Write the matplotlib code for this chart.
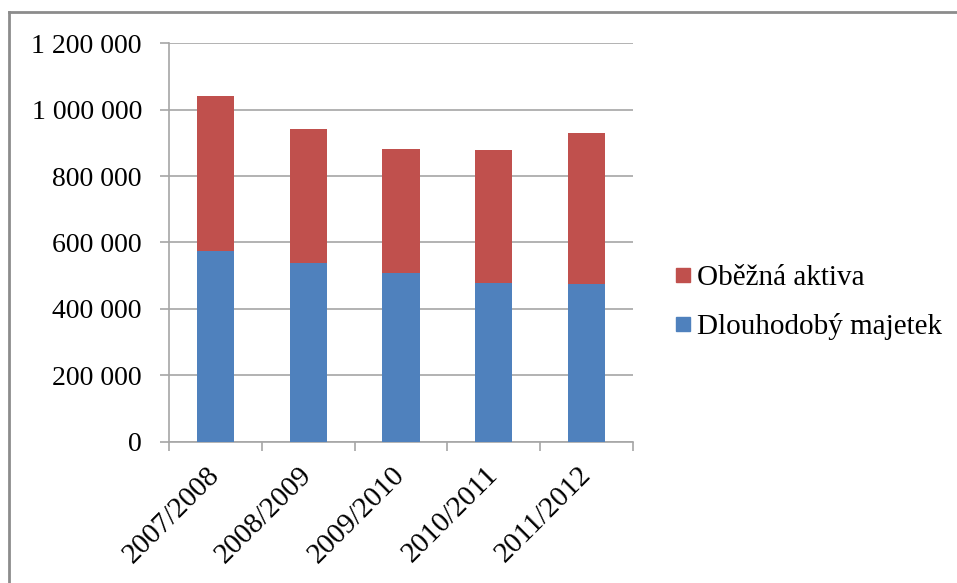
import matplotlib.pyplot as plt
from matplotlib.lines import Line2D
from matplotlib.ticker import FuncFormatter, MultipleLocator


# ==========================================================
# DATA
# ==========================================================

YEARS = ["2007/2008", "2008/2009", "2009/2010", "2010/2011", "2011/2012"]
DLOUHODOBY = [573000, 538000, 508000, 477000, 474000]
OBEZNA = [469000, 403000, 375000, 401000, 456000]

BLUE = "#4F81BD"
RED = "#C0504D"
GRID = "#a6a6a6"


def thousands(value, pos):
    return f"{int(value):,}".replace(",", " ")


# ==========================================================
# PLOT
# ==========================================================

plt.rcParams["font.family"] = ["Liberation Serif", "DejaVu Serif"]

fig = plt.figure(figsize=(9.57, 5.83), dpi=100)
ax = fig.add_axes([0.1766, 0.2424, 0.6614 - 0.1766, 0.9257 - 0.2424])

x = range(len(YEARS))
ax.bar(x, DLOUHODOBY, width=0.4, color=BLUE, zorder=3)
ax.bar(x, OBEZNA, width=0.4, bottom=DLOUHODOBY, color=RED, zorder=3)

ax.set_xlim(-0.5, len(YEARS) - 0.5)
ax.set_ylim(0, 1200000)
ax.yaxis.set_major_locator(MultipleLocator(200000))
ax.yaxis.set_major_formatter(FuncFormatter(thousands))
ax.grid(axis="y", color=GRID, linewidth=1.2, zorder=0)

# category boundaries carry the tick marks
ax.set_xticks([i - 0.5 for i in range(len(YEARS) + 1)])
ax.set_xticklabels([])
ax.set_xticks(list(x), minor=True)
ax.set_xticklabels(YEARS, minor=True, rotation=45, ha="right",
                   va="center", rotation_mode="anchor", fontsize=21)
ax.tick_params(axis="x", which="minor", length=0, pad=21)
ax.tick_params(axis="x", which="major", length=6.5, width=1.2, color=GRID)
ax.tick_params(axis="y", length=6.5, width=1.2, color=GRID,
               labelsize=20, pad=13)

for side in ("top", "right"):
    ax.spines[side].set_visible(False)
for side in ("left", "bottom"):
    ax.spines[side].set_color(GRID)
    ax.spines[side].set_linewidth(1.2)

# legend
handles = [
    Line2D([], [], marker="s", linestyle="none", markersize=10,
           color=RED, label="Oběžná aktiva"),
    Line2D([], [], marker="s", linestyle="none", markersize=10,
           color=BLUE, label="Dlouhodobý majetek"),
]
fig.legend(handles=handles, loc="center left",
           bbox_to_anchor=(0.6935, 0.481), frameon=False, fontsize=21,
           handlelength=0.5, handletextpad=0.25, labelspacing=0.75,
           borderaxespad=0)

# chart frame
fig.add_artist(Line2D([9 / 957, 9 / 957], [0, 1 - 12 / 583],
                      transform=fig.transFigure, color="#8c8c8c", lw=2))
fig.add_artist(Line2D([9 / 957, 1], [1 - 12 / 583, 1 - 12 / 583],
                      transform=fig.transFigure, color="#8c8c8c", lw=2))

fig.savefig("out.png", dpi=100)
